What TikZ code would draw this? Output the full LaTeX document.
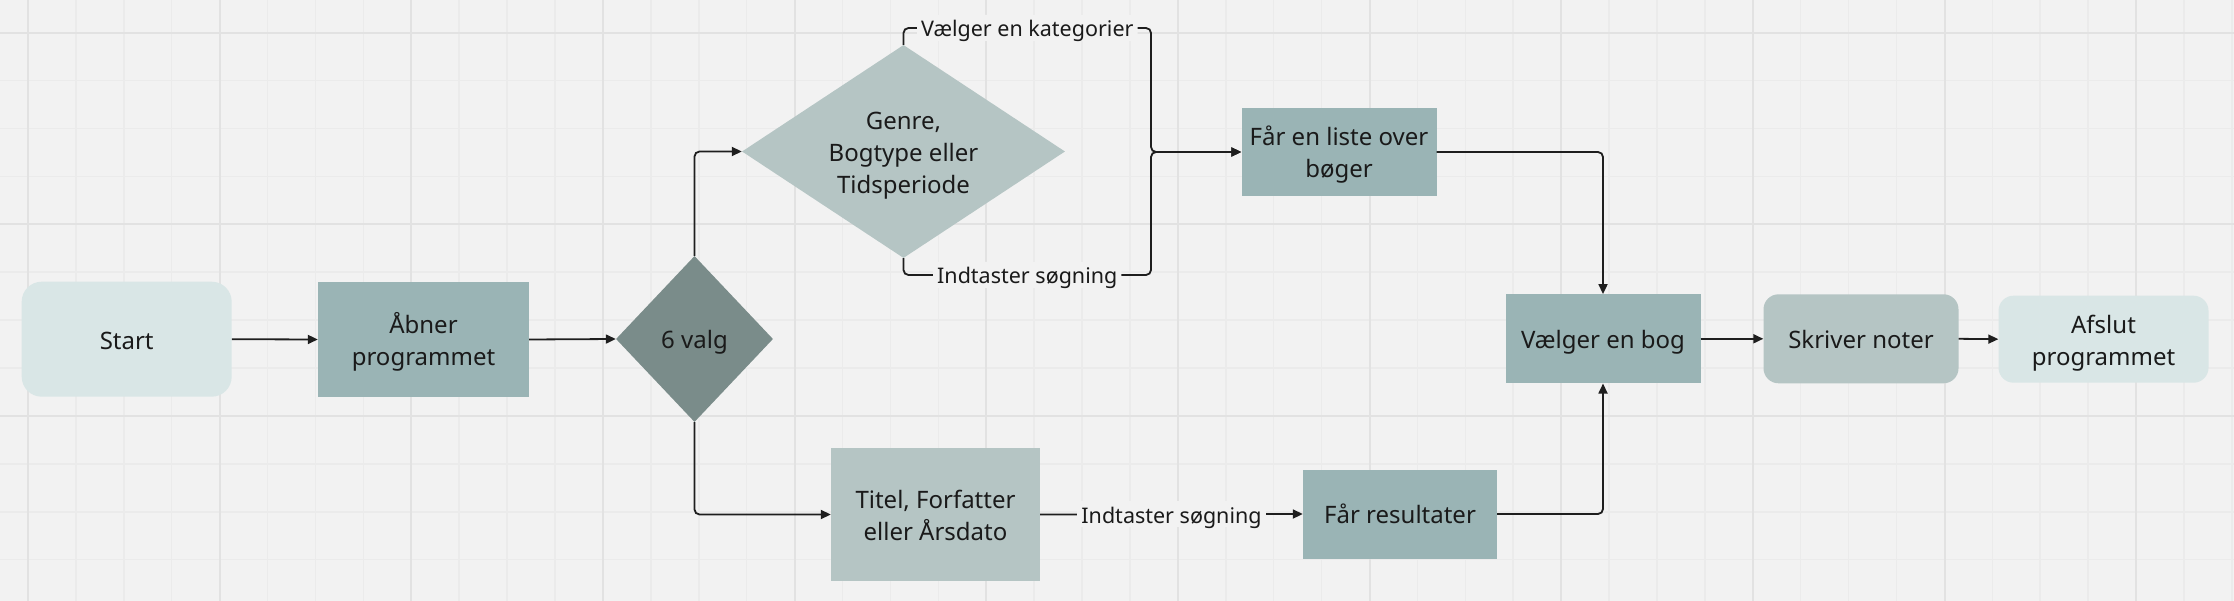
\documentclass[tikz,border=0pt]{standalone}
\usepackage{fontspec}
\setmainfont{Noto Sans}
\usetikzlibrary{shapes.geometric,arrows.meta}
\definecolor{bg}{HTML}{F2F2F2}
\definecolor{gridminor}{HTML}{EBEBEB}
\definecolor{gridmajor}{HTML}{E2E2E2}
\definecolor{cLight}{HTML}{D9E6E6}
\definecolor{cMid}{HTML}{9AB4B5}
\definecolor{cPale}{HTML}{B5C5C4}
\definecolor{cDark}{HTML}{7A8C8A}
\definecolor{txt}{HTML}{1A1A1A}
\definecolor{ln}{HTML}{1E1E1E}
\newcommand\tx[1]{\raisebox{0pt}[\dimexpr\height+7pt\relax][\depth]{\begin{tabular}{@{}c@{}}#1\end{tabular}}}
\tikzset{
  base/.style={inner sep=0pt, text=txt, font=\fontsize{24}{32}\selectfont},
  termbox/.style={base, rectangle, rounded corners=20pt, fill=cLight},
  procbox/.style={base, rectangle, fill=cMid},
  palebox/.style={base, rectangle, fill=cPale},
  decide/.style={base, diamond, fill=cDark},
  lab/.style={fill=bg, inner xsep=4pt, inner ysep=4pt, text height=18pt, text depth=0pt, text=txt, font=\fontsize{21.5}{26}\selectfont},
  arr/.style={draw=ln, line width=1.8pt, -{Triangle[length=10pt,width=9pt]}},
}
\begin{document}
\begin{tikzpicture}[x=1pt,y=-1pt]
\useasboundingbox (0,0) rectangle (2234,601);
\fill[bg] (0,0) rectangle (2234,601);
% grid
\foreach \i in {0,...,46}{\draw[gridminor, line width=1.5pt] ({28+47.91*\i},0) -- ({28+47.91*\i},601);}
\foreach \j in {0,...,11}{\draw[gridminor, line width=1.5pt] (0,{32.7+47.91*\j}) -- (2234,{32.7+47.91*\j});}
\foreach \i in {0,...,11}{\draw[gridmajor, line width=2pt] ({28+191.65*\i},0) -- ({28+191.65*\i},601);}
\foreach \j in {0,...,2}{\draw[gridmajor, line width=2pt] (0,{32.7+191.65*\j}) -- (2234,{32.7+191.65*\j});}

% nodes
\node[termbox, minimum width=210pt, minimum height=115pt] (start) at (126.7,339.2) {\tx{Start}};
\node[procbox, minimum width=211pt, minimum height=115pt] (open) at (423.5,339.5) {\tx{Åbner\\programmet}};
\node[decide, aspect=0.95, minimum width=157pt, minimum height=166pt] (six) at (694.5,339) {\tx{6 valg}};
\node[base, diamond, fill=cPale, aspect=1.52, minimum width=323pt, minimum height=213pt] (genre) at (903.5,151.5) {\tx{Genre,\\Bogtype eller\\Tidsperiode}};
\node[procbox, minimum width=195pt, minimum height=88pt] (list) at (1339,152) {\tx{Får en liste over\\bøger}};
\node[palebox, minimum width=209pt, minimum height=133pt] (titel) at (935.5,514.5) {\tx{Titel, Forfatter\\eller Årsdato}};
\node[procbox, minimum width=194pt, minimum height=89pt] (res) at (1400,514) {\tx{Får resultater}};
\node[procbox, minimum width=195pt, minimum height=89pt] (bog) at (1603,338.8) {\tx{Vælger en bog}};
\node[palebox, rounded corners=15pt, minimum width=195pt, minimum height=89pt] (noter) at (1861,338.8) {\tx{Skriver noter}};
\node[termbox, rounded corners=15pt, minimum width=210pt, minimum height=87pt] (afslut) at (2103.5,339.2) {\tx{Afslut\\programmet}};

% junction coordinates
\coordinate (jt) at (1151,28);
\coordinate (jb) at (1151,275);

% connectors
\draw[arr] (start.east) -- (open.west);
\draw[arr] (open.east) -- (six.west);
\draw[arr, rounded corners=5pt] (six.north) |- (genre.west);
\draw[arr, rounded corners=5pt] (six.south) |- (titel.west);
\draw[arr, rounded corners=5pt] (genre.north) |- node[lab, pos=0.75] {Vælger en kategorier} (jt) |- (list.west);
\draw[arr, rounded corners=5pt] (genre.south) |- node[lab, pos=0.75] {Indtaster søgning} (jb) |- (list.west);
\draw[arr] (titel.east) -- node[lab] {Indtaster søgning} (res.west);
\draw[arr, rounded corners=5pt] (list.east) -| (bog.north);
\draw[arr, rounded corners=5pt] (res.east) -| (bog.south);
\draw[arr] (bog.east) -- (noter.west);
\draw[arr] (noter.east) -- (afslut.west);
\end{tikzpicture}
\end{document}
